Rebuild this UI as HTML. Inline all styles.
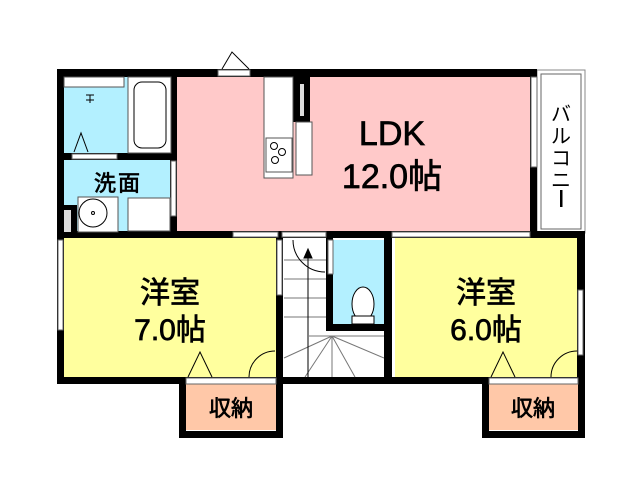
<!DOCTYPE html>
<html><head><meta charset="utf-8"><style>
html,body{margin:0;padding:0;background:#fff;width:640px;height:480px;overflow:hidden}
svg{display:block}
text{font-family:"Liberation Sans","Noto Sans CJK JP",sans-serif;fill:#000}
.b{stroke:#000;stroke-width:0.7}
</style></head><body>
<svg width="640" height="480" viewBox="0 0 640 480" xmlns="http://www.w3.org/2000/svg">
<!-- balcony -->
<rect x="537" y="70" width="48" height="163" fill="#fff" stroke="#888" stroke-width="1"/>
<rect x="541" y="74" width="40" height="155" fill="#fff" stroke="#666" stroke-width="1"/>
<g font-size="20" text-anchor="middle">
<text x="561" y="121">バ</text>
<text x="561" y="143">ル</text>
<text x="561" y="165">コ</text>
<text x="561" y="187">ニ</text>
</g>
<rect x="560" y="190" width="2.5" height="17" fill="#000"/>
<!-- fills -->
<rect x="177" y="77" width="354" height="155" fill="#ffc9c9"/>
<rect x="64" y="77" width="110" height="76" fill="#b3f0ff"/>
<rect x="64" y="160" width="110" height="72" fill="#b3f0ff"/>
<rect x="64" y="238" width="212" height="139" fill="#ffff9e"/>
<rect x="395" y="238" width="184" height="139" fill="#ffff9e"/>
<rect x="283" y="238" width="43" height="139" fill="#fff"/>
<rect x="333" y="240" width="51" height="86" fill="#b3f0ff"/>
<rect x="186" y="384" width="90" height="46" fill="#ffc8a8"/>
<rect x="489" y="384" width="90" height="46" fill="#ffc8a8"/>
<!-- walls -->
<g fill="#000">
<rect x="57" y="69" width="480" height="8"/>
<rect x="57" y="69" width="7" height="315"/>
<rect x="170" y="69" width="7" height="169"/>
<rect x="530" y="69" width="7" height="169"/>
<rect x="57" y="153" width="120" height="7"/>
<rect x="57" y="231" width="528" height="7"/>
<rect x="577" y="231" width="8" height="153"/>
<rect x="57" y="377" width="528" height="7"/>
<rect x="276" y="231" width="7" height="153"/>
<rect x="326" y="238" width="7" height="93"/>
<rect x="326" y="324" width="64" height="7"/>
<rect x="384" y="231" width="8" height="153"/>
<rect x="179" y="377" width="7" height="61"/>
<rect x="276" y="377" width="7" height="61"/>
<rect x="179" y="431" width="104" height="7"/>
<rect x="482" y="377" width="7" height="61"/>
<rect x="578" y="377" width="7" height="61"/>
<rect x="482" y="431" width="103" height="7"/>
<rect x="293" y="77" width="17" height="45"/>
<rect x="57" y="205" width="20" height="33"/>
</g>
<!-- windows / door openings -->
<g fill="#fff" stroke="#666" stroke-width="1">
<rect x="218" y="70" width="32" height="6"/>
<rect x="233" y="232" width="45" height="5"/>
<rect x="282" y="232" width="44" height="5"/>
<rect x="392" y="232" width="138" height="5"/>
<rect x="531" y="77" width="6" height="90"/>
<rect x="58" y="240" width="5" height="90"/>
<rect x="578" y="290" width="5" height="65"/>
<rect x="171" y="161" width="5" height="55"/>
<rect x="277" y="240" width="5" height="55"/>
<rect x="186" y="378" width="90" height="6"/>
<rect x="489" y="378" width="89" height="6"/>
<rect x="72" y="154" width="45" height="5"/>
<rect x="328" y="240" width="5" height="34"/>
</g>
<path d="M222 69 L232 52 L249 69" fill="none" stroke="#000"/>
<!-- bath -->
<rect x="64" y="77" width="60" height="10" fill="#fff" stroke="#555"/>
<rect x="128" y="77" width="43" height="76" fill="#fff" stroke="#555"/>
<rect x="134" y="82" width="32" height="66" rx="8" fill="#fff" stroke="#000"/>
<path d="M86 95h8M90 95v8M86 100h8M74 152L81 133L88 152" stroke="#000" fill="none"/>
<!-- wash -->
<text x="118" y="191" font-size="22" text-anchor="middle" letter-spacing="2" class="b">洗面</text>
<rect x="78" y="197" width="40" height="35" fill="#fff" stroke="#555"/>
<circle cx="93" cy="213" r="14" fill="#fff" stroke="#000"/>
<circle cx="93" cy="213" r="1.5" fill="none" stroke="#000"/>
<rect x="128" y="198" width="42" height="33" fill="#fff" stroke="#555"/>
<rect x="64" y="210" width="7" height="22" fill="#ddd"/>
<!-- kitchen -->
<rect x="264" y="77" width="29" height="101" fill="#fff" stroke="#555"/>
<rect x="266" y="138" width="26" height="34" fill="#fff" stroke="#555"/>
<circle cx="274" cy="146" r="3.5" fill="none" stroke="#000"/>
<circle cx="282" cy="152" r="3.5" fill="none" stroke="#000"/>
<circle cx="275" cy="160" r="3.5" fill="none" stroke="#000"/>
<rect x="296" y="122" width="16" height="53" fill="#fff" stroke="#555"/>
<rect x="300" y="84" width="4" height="32" fill="#ddd"/>
<text x="392" y="145" font-size="34" text-anchor="middle" class="b">LDK</text>
<text x="392" y="188" font-size="34" text-anchor="middle" class="b">12.0帖</text>
<!-- bedrooms -->
<text x="170" y="303" font-size="30" text-anchor="middle" class="b">洋室</text>
<text x="170" y="340" font-size="30" text-anchor="middle" class="b">7.0帖</text>
<text x="486" y="303" font-size="30" text-anchor="middle" class="b">洋室</text>
<text x="486" y="340" font-size="30" text-anchor="middle" class="b">6.0帖</text>
<path d="M188 377L200 352L212 377M249 377A26 26 0 0 1 275 351" fill="none" stroke="#000"/>
<path d="M491 377L503 352L515 377M551 377A26 26 0 0 1 577 351" fill="none" stroke="#000"/>
<text x="231" y="416" font-size="22" text-anchor="middle" class="b">収納</text>
<text x="533" y="416" font-size="22" text-anchor="middle" class="b">収納</text>
<!-- stairs -->
<g stroke="#777" stroke-width="1" fill="none">
<path d="M284 260h42M284 279h42M284 298h42M284 317h42"/>
<path d="M332 336L284 358M332 336L305 377M332 336L332 377M332 336L355 377M332 336L384 358M309 336h75"/>
</g>
<path d="M308 377V250M304 258L308 249L312 258Z" stroke="#000" fill="#000"/>
<path d="M293 240A32 32 0 0 0 325 272" fill="none" stroke="#000"/>
<!-- toilet -->
<ellipse cx="363" cy="304" rx="11" ry="17" fill="#fff" stroke="#000"/>
<rect x="352" y="316" width="22" height="8" fill="#fff" stroke="#000"/>
</svg>
</body></html>
